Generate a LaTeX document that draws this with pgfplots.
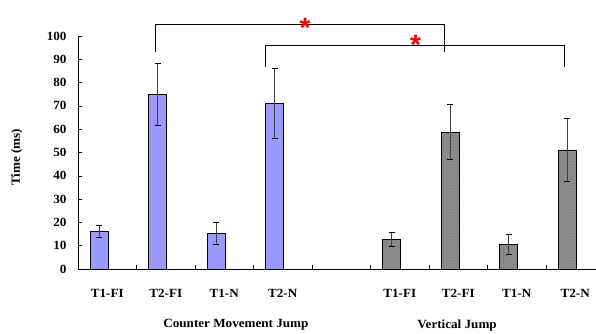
\documentclass[border=0pt]{standalone}
\usepackage{pgfplots}
\pgfplotsset{compat=1.18}
\usetikzlibrary{patterns}
\usepackage{fontspec}
\setmainfont{Liberation Serif}[FakeStretch=1.05]
\newfontfamily\astfont{Liberation Sans}
\definecolor{cmjblue}{RGB}{153,153,255}
\definecolor{vjgray}{RGB}{135,135,135}
\pgfplotstableread{
x y e
0.86 16.0 2.6
1.86 75.0 13.3
2.86 15.3 4.7
3.86 71.2 15.0
}\cmj
\pgfplotstableread{
x y e
5.86 12.7 3.0
6.86 58.7 11.8
7.86 10.5 4.2
8.86 51.1 13.4
}\vj
\tikzset{lab/.style={font=\fontsize{12.5}{14}\selectfont\bfseries}}
\begin{document}
\begin{tikzpicture}
\begin{axis}[name=ax, scale only axis, width=518pt, height=233pt,
  xmin=0.5, xmax=9.355, ymin=0, ymax=100,
  axis x line*=bottom, axis y line*=left,
  axis line style={line width=0.6pt},
  ytick={0,10,...,100},
  xtick={1.5,2.5,...,8.5}, xticklabels={},
  tick align=inside, major tick length=4pt,
  tick style={black, line width=0.6pt},
  /pgf/number format/assume math mode=true,
  ticklabel style={font=\fontsize{12.5}{14}\selectfont\bfseries},
  yticklabel style={xshift=-8pt},
  clip=false,
  bar width=0.3,
  error bars/error bar style={black!75, line width=0.6pt},
  error bars/error mark options={rotate=90, mark size=3pt, black, line width=0.6pt},
]
\addplot[ybar, fill=cmjblue, draw=black, line width=0.6pt,
  error bars/.cd, y dir=both, y explicit]
  table[x=x, y=y, y error=e] {\cmj};
\addplot[ybar, fill=vjgray, draw=black, line width=0.6pt,
  postaction={pattern=crosshatch dots, pattern color=black!40},
  error bars/.cd, y dir=both, y explicit]
  table[x=x, y=y, y error=e] {\vj};
% significance brackets
\draw[line width=0.6pt] (axis cs:1.816,93.1) -- (axis cs:1.816,105.1) -- (axis cs:6.76,105.1) -- (axis cs:6.76,93.1);
\draw[line width=0.6pt] (axis cs:3.70,86.5) -- (axis cs:3.70,96.2) -- (axis cs:8.82,96.2) -- (axis cs:8.82,86.5);
\node[anchor=base, yshift=-16pt, text=red, font=\astfont\fontsize{28}{28}\selectfont\bfseries, inner sep=0pt] at (axis cs:4.38,106.2) {*};
\node[anchor=base, yshift=-16pt, text=red, font=\astfont\fontsize{28}{28}\selectfont\bfseries, inner sep=0pt] at (axis cs:6.27,98.8) {*};
% category labels
\node[lab] at (axis cs:1,0) [yshift=-24pt] {T1-FI};
\node[lab] at (axis cs:2,0) [yshift=-24pt] {T2-FI};
\node[lab] at (axis cs:3,0) [yshift=-24pt] {T1-N};
\node[lab] at (axis cs:4,0) [yshift=-24pt] {T2-N};
\node[lab] at (axis cs:6,0) [yshift=-24pt] {T1-FI};
\node[lab] at (axis cs:7,0) [yshift=-24pt] {T2-FI};
\node[lab] at (axis cs:8,0) [yshift=-24pt] {T1-N};
\node[lab] at (axis cs:9,0) [yshift=-24pt] {T2-N};
\node[lab] at (axis cs:3.2,0) [yshift=-56pt] {Counter Movement Jump};
\node[lab] at (axis cs:6.98,0) [yshift=-56pt] {Vertical Jump};
\node[lab, rotate=90] at (axis description cs:-0.118,0.48) {Time (ms)};
\end{axis}
\pgfresetboundingbox
\path[use as bounding box] ([shift={(-78pt,-64pt)}]ax.south west) rectangle ++(596pt,333pt);
\end{tikzpicture}
\end{document}
